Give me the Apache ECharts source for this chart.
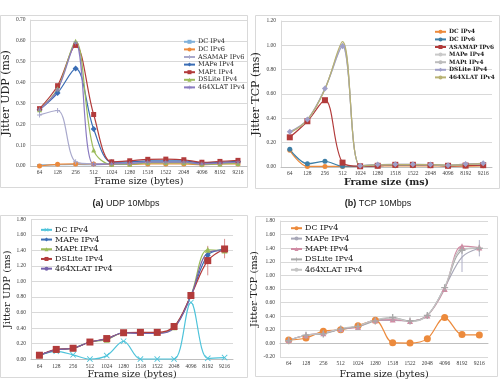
<!DOCTYPE html>
<html>
<head>
<meta charset="utf-8">
<script src="https://cdn.jsdelivr.net/npm/echarts@6/dist/echarts.min.js"></script>
<style>
html, body {
  margin: 0;
  padding: 0;
  background: #fff;
}
#chart {
  width: 500px;
  height: 381px;
}
</style>
</head>
<body>
<div id="chart"></div>
<script>
// frame sizes, shared by all four panels
const frameSizes = ['64', '128', '256', '512', '1024', '1280', '1518', '1522', '2048', '4096', '8192', '9216']

// (a) UDP 10Mbps, upper panel
const udpA_dcIPv4 = [0.005, 0.006, 0.008, 0.006, 0.01, 0.012, 0.018, 0.018, 0.018, 0.01, 0.014, 0.018]
const udpA_dcIPv6 = [0.0, 0.008, 0.01, 0.01, 0.008, 0.008, 0.01, 0.01, 0.01, 0.006, 0.01, 0.01]
const udpA_asamapIPv6 = [0.245, 0.266, 0.02, 0.01, 0.012, 0.015, 0.02, 0.02, 0.02, 0.012, 0.015, 0.02]
const udpA_mapeIPv4 = [0.27, 0.35, 0.467, 0.177, 0.018, 0.02, 0.025, 0.025, 0.025, 0.015, 0.018, 0.022]
const udpA_maptIPv4 = [0.275, 0.385, 0.578, 0.247, 0.02, 0.025, 0.032, 0.033, 0.03, 0.018, 0.022, 0.027]
const udpA_dsliteIPv4 = [0.27, 0.37, 0.598, 0.077, 0.008, 0.008, 0.015, 0.015, 0.015, 0.008, 0.01, 0.012]
const udpA_xlatIPv4 = [0.27, 0.365, 0.59, 0.008, 0.01, 0.012, 0.018, 0.018, 0.018, 0.01, 0.014, 0.018]

// (b) TCP 10Mbps, upper panel
const tcpA_dcIPv4 = [0.137, 0.005, 0.005, 0.005, 0.005, 0.008, 0.01, 0.01, 0.01, 0.008, 0.008, 0.01]
const tcpA_dcIPv6 = [0.145, 0.027, 0.047, 0.006, 0.006, 0.01, 0.015, 0.015, 0.015, 0.01, 0.015, 0.015]
const tcpA_asamapIPv6 = [0.244, 0.376, 0.549, 0.036, 0.006, 0.01, 0.018, 0.018, 0.015, 0.01, 0.012, 0.015]
const tcpA_mapeIPv4 = [0.285, 0.385, 0.64, 1.0, 0.01, 0.02, 0.02, 0.02, 0.02, 0.015, 0.02, 0.03]
const tcpA_maptIPv4 = [0.285, 0.385, 0.645, 1.015, 0.01, 0.02, 0.022, 0.022, 0.02, 0.015, 0.022, 0.03]
const tcpA_dsliteIPv4 = [0.29, 0.39, 0.645, 0.993, 0.01, 0.02, 0.022, 0.022, 0.02, 0.015, 0.025, 0.03]
const tcpA_xlatIPv4 = [0.28, 0.388, 0.64, 1.03, 0.008, 0.018, 0.02, 0.02, 0.02, 0.015, 0.02, 0.03]

// lower-left panel, UDP
const udpB_dcIPv4 = [0.05, 0.10, 0.055, 0.0, 0.045, 0.23, 0.0, 0.0, 0.0, 0.73, 0.01, 0.02]
const udpB_mapeIPv4 = [0.05, 0.12, 0.14, 0.22, 0.26, 0.34, 0.34, 0.34, 0.41, 0.82, 1.34, 1.42]
const udpB_maptIPv4 = [0.05, 0.12, 0.14, 0.22, 0.25, 0.34, 0.34, 0.34, 0.41, 0.82, 1.41, 1.40]
const udpB_dsliteIPv4 = [0.05, 0.125, 0.14, 0.22, 0.265, 0.34, 0.345, 0.345, 0.42, 0.82, 1.27, 1.42]
const udpB_xlatIPv4 = [0.05, 0.12, 0.14, 0.22, 0.26, 0.34, 0.33, 0.33, 0.40, 0.81, 1.37, 1.40]
const udpB_errBars = [['8192', 1.08, 1.46], ['9216', 1.30, 1.55]]

// lower-right panel, TCP
const tcpB_dcIPv4 = [0.05, 0.08, 0.18, 0.20, 0.26, 0.34, 0.01, 0.005, 0.07, 0.38, 0.13, 0.125]
const tcpB_mapeIPv4 = [0.05, 0.12, 0.15, 0.21, 0.25, 0.34, 0.34, 0.33, 0.41, 0.82, 1.27, 1.40]
const tcpB_maptIPv4 = [0.05, 0.12, 0.15, 0.21, 0.24, 0.34, 0.35, 0.33, 0.41, 0.80, 1.43, 1.41]
const tcpB_dsliteIPv4 = [0.04, 0.12, 0.14, 0.21, 0.25, 0.33, 0.38, 0.33, 0.41, 0.82, 1.37, 1.40]
const tcpB_xlatIPv4 = [0.05, 0.12, 0.15, 0.22, 0.26, 0.35, 0.38, 0.32, 0.41, 0.83, 1.39, 1.40]
const tcpB_errBars = [['8192', 1.05, 1.40], ['9216', 1.28, 1.52]]

const SERIF = 'DejaVu Serif'
const TICK_FONT = 'Liberation Serif'
const PLUS = 'path://M4,0H6V4H10V6H6V10H4V6H0V4H4Z'
const CROSS = 'path://M1,0L5,4L9,0L10,1L6,5L10,9L9,10L5,6L1,10L0,9L4,5L0,1Z'
const STAR = 'path://M4.4,0H5.6V3.9L9,1.9L9.6,3L6.2,5L9.6,7L9,8.1L5.6,6.1V10H4.4V6.1L1,8.1L0.4,7L3.8,5L0.4,3L1,1.9L4.4,3.9Z'

// series names carry a panel prefix so the four legends stay apart
function line (panel, name, data, color, symbol, size) {
  return {
    name: panel + '|' + name,
    type: 'line',
    xAxisIndex: panel,
    yAxisIndex: panel,
    data,
    smooth: 0.35,
    symbol: symbol || 'none',
    symbolSize: size || 5,
    showSymbol: !!symbol,
    lineStyle: { color, width: 1.2 },
    itemStyle: { color, borderWidth: 0 },
    animation: false
  }
}

function errBars (panel, data, color) {
  return {
    type: 'custom',
    xAxisIndex: panel,
    yAxisIndex: panel,
    data,
    silent: true,
    z: 1,
    animation: false,
    renderItem: (params, api) => {
      const lo = api.coord([api.value(0), api.value(1)])
      const hi = api.coord([api.value(0), api.value(2)])
      return {
        type: 'line',
        shape: { x1: lo[0], y1: lo[1], x2: hi[0], y2: hi[1] },
        style: { stroke: color, lineWidth: 1 }
      }
    }
  }
}

function xAxis (idx, name, gap, bold) {
  return {
    type: 'category',
    gridIndex: idx,
    data: frameSizes,
    boundaryGap: true,
    name,
    nameLocation: 'middle',
    nameGap: gap,
    nameTextStyle: { fontFamily: SERIF, fontSize: 9.5, color: '#222', fontWeight: bold ? 'bold' : 'normal' },
    axisTick: { show: false },
    axisLine: { lineStyle: { color: '#BFBFBF' } },
    axisLabel: { fontFamily: TICK_FONT, fontSize: 5.5, color: '#404040', margin: 4, interval: 0 }
  }
}

function yAxis (idx, name, min, max, step, gap, size) {
  return {
    type: 'value',
    gridIndex: idx,
    min,
    max,
    interval: step,
    name,
    nameLocation: 'middle',
    nameRotate: 90,
    nameGap: gap,
    nameTextStyle: { fontFamily: SERIF, fontSize: size, color: '#222' },
    axisLine: { show: true, lineStyle: { color: '#D9D9D9' } },
    axisTick: { show: false },
    splitLine: { lineStyle: { color: '#D9D9D9', width: 1 } },
    axisLabel: { fontFamily: TICK_FONT, fontSize: 5.5, color: '#404040', margin: 5, formatter: v => v.toFixed(2) }
  }
}

function legend (panel, left, top, size, lh, bold) {
  return {
    orient: 'vertical',
    left,
    top,
    itemWidth: 11,
    itemHeight: 5,
    itemGap: 0,
    padding: 0,
    selectedMode: false,
    data: option.series.filter(s => s.name && s.name.startsWith(panel + '|')).map(s => s.name),
    formatter: n => n.split('|')[1],
    textStyle: { fontFamily: SERIF, fontSize: size, lineHeight: lh, color: '#222', fontWeight: bold ? 'bold' : 'normal', padding: [0, 0, 0, -2] }
  }
}

const orange = '#EC8A3C'
const red = '#B23B3B'
const blue = '#3A6DB5'
const olive = '#9BBB59'

var option = {
  backgroundColor: '#fff',
  animation: false,
  grid: [
    { left: 29, right: 253, top: 20, bottom: 215 },
    { left: 281, right: 8, top: 21, bottom: 214 },
    { left: 31, right: 267, top: 219.5, bottom: 21 },
    { left: 280, right: 12, top: 221, bottom: 22 }
  ],
  xAxis: [
    xAxis(0, 'Frame size (bytes)', 9),
    xAxis(1, 'Frame size (ms)', 9, true),
    xAxis(2, 'Frame size (bytes)', 9),
    xAxis(3, 'Frame size (bytes)', 13)
  ],
  yAxis: [
    yAxis(0, 'Jitter UDP (ms)', 0, 0.7, 0.1, 16, 11),
    yAxis(1, 'Jitter TCP (ms)', 0, 1.2, 0.2, 19, 11),
    yAxis(2, 'Jitter UDP (ms)', 0, 1.8, 0.2, 19, 10),
    yAxis(3, 'Jitter TCP (ms)', -0.2, 1.8, 0.2, 16, 10)
  ],
  series: [
    line(0, 'DC IPv4', udpA_dcIPv4, '#7FB0DA', 'rect', [5, 2]),
    line(0, 'DC IPv6', udpA_dcIPv6, orange, 'circle', 5),
    line(0, 'ASAMAP IPv6', udpA_asamapIPv6, '#A9A9CC', PLUS, 5),
    line(0, 'MAPe IPv4', udpA_mapeIPv4, blue, 'diamond', 6),
    line(0, 'MAPt IPv4', udpA_maptIPv4, red, 'rect', 5),
    line(0, 'DSLite IPv4', udpA_dsliteIPv4, olive, 'triangle', 5),
    line(0, '464XLAT IPv4', udpA_xlatIPv4, '#8A7BC0', STAR, 5),

    line(1, 'DC IPv4', tcpA_dcIPv4, orange, 'circle', 5),
    line(1, 'DC IPv6', tcpA_dcIPv6, '#3D7EA6', 'circle', 5),
    line(1, 'ASAMAP IPv6', tcpA_asamapIPv6, red, 'rect', 6),
    line(1, 'MAPe IPv4', tcpA_mapeIPv4, '#C9C9C9'),
    line(1, 'MAPt IPv4', tcpA_maptIPv4, '#BDBDBD'),
    line(1, 'DSLite IPv4', tcpA_dsliteIPv4, '#9F9FC8', 'diamond', 6),
    line(1, '464XLAT IPv4', tcpA_xlatIPv4, '#B8B273'),

    line(2, 'DC IPv4', udpB_dcIPv4, '#4EC3DA', CROSS, 6),
    line(2, 'MAPe IPv4', udpB_mapeIPv4, blue, 'diamond', 6),
    line(2, 'MAPt IPv4', udpB_maptIPv4, olive, 'triangle', 6),
    line(2, 'DSLite IPv4', udpB_dsliteIPv4, red, 'rect', 7),
    line(2, '464XLAT IPv4', udpB_xlatIPv4, '#7662AC'),
    errBars(2, udpB_errBars, '#D98C8C'),

    line(3, 'DC IPv4', tcpB_dcIPv4, orange, 'circle', 7),
    line(3, 'MAPe IPv4', tcpB_mapeIPv4, '#A8A8B8'),
    line(3, 'MAPt IPv4', tcpB_maptIPv4, '#D08CA4', 'triangle', 6),
    line(3, 'DSLite IPv4', tcpB_dsliteIPv4, '#A9A9A9', PLUS, 7),
    line(3, '464XLAT IPv4', tcpB_xlatIPv4, '#C4C4C4'),
    errBars(3, tcpB_errBars, '#B0B0C8')
  ],
  title: [
    {
      text: '{b|(a)} UDP 10Mbps',
      left: 121,
      top: 194,
      textAlign: 'center',
      textStyle: { fontFamily: 'Liberation Sans', fontSize: 9, fontWeight: 'normal', color: '#222', rich: { b: { fontFamily: 'Liberation Sans', fontSize: 9, fontWeight: 'bold', color: '#222' } } }
    },
    {
      text: '{b|(b)} TCP 10Mbps',
      left: 373,
      top: 194,
      textAlign: 'center',
      textStyle: { fontFamily: 'Liberation Sans', fontSize: 9, fontWeight: 'normal', color: '#222', rich: { b: { fontFamily: 'Liberation Sans', fontSize: 9, fontWeight: 'bold', color: '#222' } } }
    }
  ],
  graphic: [
    { type: 'rect', shape: { x: 0.5, y: 15.5, width: 247, height: 172 }, style: { fill: 'none', stroke: '#D9D9D9' }, silent: true },
    { type: 'rect', shape: { x: 255.5, y: 15.5, width: 244, height: 173 }, style: { fill: 'none', stroke: '#D9D9D9' }, silent: true },
    { type: 'rect', shape: { x: 0.5, y: 215.5, width: 247, height: 162 }, style: { fill: 'none', stroke: '#D9D9D9' }, silent: true },
    { type: 'rect', shape: { x: 255.5, y: 216.5, width: 242, height: 160 }, style: { fill: 'none', stroke: '#D9D9D9' }, silent: true }
  ]
}

option.legend = [
  legend(0, 183, 38, 6.5, 7.6),
  legend(1, 434, 28, 5.8, 7.6, true),
  legend(2, 40, 225, 8, 9.7),
  legend(3, 290, 223, 8, 10.4)
]

const chart = echarts.init(document.getElementById('chart'))
chart.setOption(option)
</script>
</body>
</html>
